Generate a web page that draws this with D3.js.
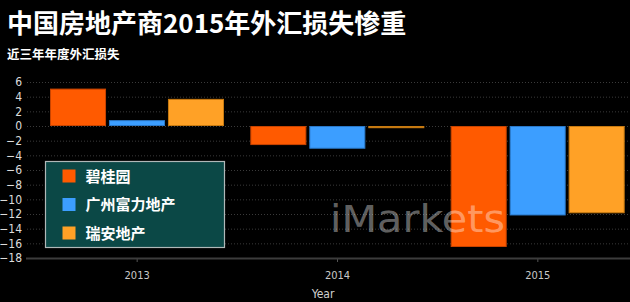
<!DOCTYPE html>
<html>
<head>
<meta charset="utf-8">
<script src="https://cdn.jsdelivr.net/npm/d3@7/dist/d3.min.js"></script>
<style>
  body { margin: 0; background: #000; }
  svg { display: block; }
</style>
</head>
<body>
<div class="chart"></div>
<script>
// data
var years = ["2013", "2014", "2015"];
var companies = ["碧桂园", "广州富力地产", "瑞安地产"];
var biguiyuan = [5.1, -2.6, -16.5];
var fuli = [0.8, -3.1, -12.2];
var ruian = [3.7, -0.3, -11.9];
var yTicks = [6, 4, 2, 0, -2, -4, -6, -8, -10, -12, -14, -16, -18];

var colors = ["#ff5a00", "#3c9eff", "#ffa126"];
var strokes = ["#c84400", "#2a78c8", "#c87a10"];

var w = 630, h = 302;
var cjk = "'Noto Sans CJK SC', sans-serif";

var svg = d3.select(".chart").append("svg")
  .attr("width", w)
  .attr("height", h)
  .style("background", "#000");

var series = [biguiyuan, fuli, ruian];
var rows = years.map(function(y, i) {
  return { year: y, values: series.map(function(s, k) { return { k: k, v: s[i] }; }) };
});

var y = d3.scaleLinear().domain([-18, 6]).range([258, 82]);
var x = d3.scaleBand().domain(years).range([37, 638]).padding(0);
var xSub = d3.scaleBand().domain([0, 1, 2]).range([13, 187]).paddingInner(0.05);

// gridlines
svg.append("g").selectAll("line")
  .data(yTicks.filter(function(d) { return d > -18; }))
  .enter().append("line")
  .attr("x1", 27).attr("x2", w)
  .attr("y1", function(d) { return y(d) + 0.5; })
  .attr("y2", function(d) { return y(d) + 0.5; })
  .attr("stroke", "#3a3a3a")
  .attr("stroke-dasharray", "1,2");

// y axis labels
var yAxis = d3.axisLeft(y).tickValues(yTicks).tickSize(0).tickPadding(0);
var gy = svg.append("g").attr("transform", "translate(22,0)").call(yAxis);
gy.select(".domain").remove();
gy.selectAll("text")
  .attr("fill", "#dcdcdc")
  .style("font-family", "'DejaVu Sans Condensed', sans-serif")
  .style("font-size", "12px");

// bars
var groups = svg.append("g").selectAll("g")
  .data(rows).enter().append("g")
  .attr("transform", function(d) { return "translate(" + x(d.year) + ",0)"; });

groups.selectAll("rect")
  .data(function(d) { return d.values; })
  .enter().append("rect")
  .attr("x", function(d) { return xSub(d.k) + 0.5; })
  .attr("width", xSub.bandwidth() - 1)
  .attr("y", function(d) { return Math.min(y(d.v), y(0)) + 0.5; })
  .attr("height", function(d) { return Math.max(1, Math.abs(y(d.v) - y(0)) - 1); })
  .attr("fill", function(d) { return colors[d.k]; })
  .attr("stroke", function(d) { return strokes[d.k]; })
  .attr("stroke-width", 1);

// x axis
var xAxis = d3.axisBottom(x).tickSize(4).tickPadding(9);
var gx = svg.append("g").attr("transform", "translate(0,258)").call(xAxis);
gx.select(".domain").remove();
gx.append("line").attr("x1", 26).attr("x2", w).attr("y1", 0.5).attr("y2", 0.5)
  .attr("stroke", "#3c3c3c").attr("stroke-width", 2);
gx.selectAll(".tick line").attr("stroke", "#555");
gx.selectAll(".tick text")
  .attr("fill", "#c8c8c8")
  .style("font-family", "'DejaVu Sans Condensed', sans-serif")
  .style("font-size", "11px");

svg.append("text")
  .attr("x", 323).attr("y", 298)
  .attr("text-anchor", "middle")
  .attr("fill", "#d0d0d0")
  .style("font-family", "'DejaVu Sans Condensed', sans-serif")
  .style("font-size", "12px")
  .text("Year");

// watermark
svg.append("text")
  .attr("x", 330).attr("y", 232)
  .attr("fill", "#fff")
  .attr("fill-opacity", 0.4)
  .attr("textLength", 175)
  .attr("lengthAdjust", "spacingAndGlyphs")
  .style("font-family", "'DejaVu Sans', sans-serif")
  .style("font-size", "37px")
  .text("iMarkets");

// legend
var lg = svg.append("g").attr("transform", "translate(45.5,161.5)");
lg.append("rect")
  .attr("width", 179).attr("height", 86)
  .attr("fill", "#0b4846")
  .attr("stroke", "#b0b8b8")
  .attr("stroke-width", 1.2);
var items = lg.selectAll("g.item").data(companies).enter().append("g")
  .attr("transform", function(d, i) { return "translate(17," + (8 + i * 28.5) + ")"; });
items.append("rect")
  .attr("width", 13).attr("height", 13)
  .attr("fill", function(d, i) { return colors[i]; });
items.append("text")
  .attr("x", 23).attr("y", 12)
  .attr("fill", "#fff")
  .style("font-family", cjk)
  .style("font-weight", 700)
  .style("font-size", "15px")
  .text(function(d) { return d; });

// titles
svg.append("text")
  .attr("x", 7).attr("y", 33)
  .attr("fill", "#fff")
  .style("font-family", cjk)
  .style("font-weight", 700)
  .style("font-size", "26px")
  .text("中国房地产商2015年外汇损失惨重");

svg.append("text")
  .attr("x", 7).attr("y", 59)
  .attr("fill", "#fff")
  .style("font-family", cjk)
  .style("font-weight", 700)
  .style("font-size", "12.5px")
  .text("近三年年度外汇损失");
</script>
</body>
</html>
